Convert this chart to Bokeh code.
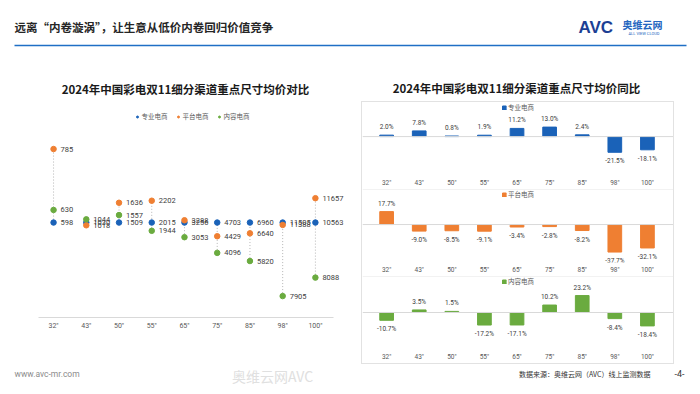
from bokeh.plotting import figure
from bokeh.models import Range1d, FixedTicker, Legend, LegendItem, Span, ColumnDataSource, Spacer
from bokeh.layouts import column, row
from bokeh.embed import file_html
from bokeh.resources import INLINE
from bokeh.core.properties import value

# ---------------- data ----------------
sizes = ['32"', '43"', '50"', '55"', '65"', '75"', '85"', '98"', '100"']
channels = ["专业电商", "平台电商", "内容电商"]
price_pro = [598, 1030, 1509, 2015, 3256, 4703, 6960, 11505, 10563]
price_plat = [785, 1018, 1636, 2202, 3288, 4429, 6640, 11388, 11657]
price_cont = [630, 1044, 1557, 1944, 3053, 4096, 5820, 7905, 8088]
yoy_pro = [2.0, 7.8, 0.8, 1.9, 11.2, 13.0, 2.4, -21.5, -18.1]
yoy_plat = [17.7, -9.0, -8.5, -9.1, -3.4, -2.8, -8.2, -37.7, -32.1]
yoy_cont = [-10.7, 3.5, 1.5, -17.2, -17.1, 10.2, 23.2, -8.4, -18.4]

page_title = "远离“内卷漩涡”，让生意从低价内卷回归价值竞争"
left_title = "2024年中国彩电双11细分渠道重点尺寸均价对比"
right_title = "2024年中国彩电双11细分渠道重点尺寸均价同比"
source_note = "数据来源：奥维云网（AVC）线上监测数据"

BLUE = "#1a62b8"
ORANGE = "#ef7f32"
GREEN = "#6aab3f"
CJK = value("Noto Sans CJK SC")
NUM = value("Roboto")
TXT = "#404040"


def blank(w, h):
    p = figure(width=w, height=h, x_range=Range1d(0, w), y_range=Range1d(h, 0),
               x_axis_type=None, y_axis_type=None, output_backend="svg",
               toolbar_location=None, min_border=0)
    p.grid.visible = False
    p.outline_line_color = None
    p.background_fill_color = "white"
    p.border_fill_color = "white"
    return p


# ---------------- header ----------------
hdr = blank(684, 50)
hdr.text(x=[6], y=[18], text=[page_title], text_font=CJK, text_font_size="11.5px",
         text_font_style="bold", text_baseline="middle", text_color="#262626")
hdr.segment(x0=[6], y0=[37], x1=[678], y1=[37], line_color="#1f6fc5", line_width=1.6)
hdr.text(x=[570], y=[19], text=["AVC"], text_font=value("Liberation Sans"), text_font_size="17px",
         text_font_style="bold", text_baseline="middle", text_color="#1c3f94")
hdr.text(x=[614], y=[16], text=["奥维云网"], text_font=CJK, text_font_size="10px",
         text_font_style="bold", text_baseline="middle", text_color="#2366c0")
hdr.text(x=[620], y=[25], text=["ALL VIEW CLOUD"], text_font=NUM, text_font_size="4px",
         text_baseline="middle", text_color="#2366c0")

# ---------------- titles row ----------------
ttl = blank(684, 43)
ttl.text(x=[177, 508], y=[30, 29], text=[left_title, right_title], text_font=CJK,
         text_font_size="11.5px", text_font_style="bold", text_align="center",
         text_baseline="middle", text_color="#1a1a1a")

# ---------------- left: dot plot (index vs 专业电商) ----------------
idx = list(range(len(sizes)))
r_pro = [a / a for a in price_pro]
r_plat = [a / b for a, b in zip(price_plat, price_pro)]
r_cont = [a / b for a, b in zip(price_cont, price_pro)]
lo = [min(t) for t in zip(r_pro, r_plat, r_cont)]
hi = [max(t) for t in zip(r_pro, r_plat, r_cont)]

lf = figure(width=342, height=263, x_range=Range1d(-0.46, 8.95), y_range=Range1d(0.596, 1.515),
            y_axis_type=None, output_backend="svg", toolbar_location=None,
            min_border_left=30, min_border_right=4, min_border_top=0, min_border_bottom=47)
lf.grid.visible = False
lf.outline_line_color = None
lf.background_fill_color = "white"
lf.border_fill_color = "white"
ax = lf.xaxis[0]
ax.ticker = FixedTicker(ticks=idx)
ax.bounds = (-0.46, 8.55)
ax.major_label_overrides = {i: s for i, s in zip(idx, sizes)}
ax.major_tick_in = 0
ax.major_tick_out = 0
ax.minor_tick_in = 0
ax.minor_tick_out = 0
ax.axis_line_color = "#d9d9d9"
ax.major_label_standoff = 4
ax.major_label_text_font = "Roboto"
ax.major_label_text_font_size = "7px"
ax.major_label_text_color = "#595959"

lf.segment(x0=idx, y0=lo, x1=idx, y1=hi, line_color="#b5b5b5", line_width=1, line_dash="1 2")
renders = []
for vals, ratios, col in [(price_pro, r_pro, BLUE), (price_plat, r_plat, ORANGE), (price_cont, r_cont, GREEN)]:
    src = ColumnDataSource(dict(x=idx, y=ratios, t=[str(v) for v in vals]))
    r = lf.scatter("x", "y", source=src, size=5.5, fill_color=col, line_color=col)
    renders.append(r)
    lf.text("x", "y", text="t", source=src, x_offset=7, text_font=NUM, text_font_size="7.5px",
            text_baseline="middle", text_color=TXT)

lleg = Legend(items=[LegendItem(label=c, renderers=[r]) for c, r in zip(channels, renders)],
              location="top_center", orientation="horizontal", glyph_width=5, glyph_height=5,
              label_text_font="Noto Sans CJK SC", label_text_font_size="6.5px",
              label_text_color="#595959", label_standoff=2, spacing=8, margin=10, padding=2,
              border_line_color=None, background_fill_alpha=0, label_height=8)
lf.add_layout(lleg)

# ---------------- right: three YoY bar panels ----------------
def panel(vals, col, name, yr, sep):
    p = figure(width=311, height=87, x_range=Range1d(-0.74, 8.8), y_range=Range1d(*yr),
               y_axis_type=None, output_backend="svg", toolbar_location=None,
               min_border_left=0, min_border_right=0, min_border_top=0, min_border_bottom=12)
    p.grid.visible = False
    p.outline_line_color = None
    p.background_fill_color = "white"
    p.border_fill_color = "white"
    a = p.xaxis[0]
    a.ticker = FixedTicker(ticks=idx)
    a.major_label_overrides = {i: s for i, s in zip(idx, sizes)}
    a.major_tick_in = 0
    a.major_tick_out = 0
    a.minor_tick_in = 0
    a.minor_tick_out = 0
    a.axis_line_color = None
    a.major_label_standoff = 3
    a.major_label_text_font = "Roboto"
    a.major_label_text_font_size = "6.5px"
    a.major_label_text_color = "#595959"
    p.add_layout(Span(location=0, dimension="width", line_color="#d9d9d9", line_width=1))
    if sep:
        p.add_layout(Span(location=yr[1], dimension="width", line_color="#e6e6e6", line_width=1))
    src = ColumnDataSource(dict(x=idx, top=vals))
    bars = p.vbar(x="x", top="top", bottom=0, width=0.42, source=src, fill_color=col, line_color=col)
    pos = [(i, v) for i, v in zip(idx, vals) if v >= 0]
    neg = [(i, v) for i, v in zip(idx, vals) if v < 0]
    for grp, off in [(pos, -8), (neg, 9)]:
        if grp:
            s = ColumnDataSource(dict(x=[g[0] for g in grp], y=[g[1] for g in grp],
                                      t=[f"{g[1]:.1f}%" for g in grp]))
            p.text("x", "y", text="t", source=s, y_offset=off, text_font=NUM, text_font_size="6.5px",
                   text_align="center", text_baseline="middle", text_color=TXT)
    leg = Legend(items=[LegendItem(label=name, renderers=[bars])], location="top_center",
                 orientation="horizontal", glyph_width=5, glyph_height=5,
                 label_text_font="Noto Sans CJK SC", label_text_font_size="6.5px",
                 label_text_color="#595959", label_standoff=2, margin=0, padding=1,
                 border_line_color=None, background_fill_alpha=0, label_height=8)
    p.add_layout(leg)
    return p


f1 = panel(yoy_pro, BLUE, channels[0], (-53.3, 46.7), False)
f2 = panel(yoy_plat, ORANGE, channels[1], (-52.0, 48.0), True)
f3 = panel(yoy_cont, GREEN, channels[2], (-50.7, 49.3), True)
boxed = column(f1, f2, f3, styles={"border": "1px solid #e2e2e2"})
right = row(Spacer(width=11, height=10), boxed)

# ---------------- footer ----------------
ftr = blank(684, 24)
ftr.text(x=[6], y=[9], text=["www.avc-mr.com"], text_font=NUM, text_font_size="8.5px",
         text_baseline="middle", text_color="#8c8c8c")
ftr.text(x=[264], y=[11], text=["奥维云网AVC"], text_font=CJK, text_font_size="14px",
         text_align="center", text_baseline="middle", text_color="#e0e0e0")
ftr.text(x=[642], y=[9], text=[source_note], text_font=CJK, text_font_size="7px",
         text_align="right", text_baseline="middle", text_color="#333333")
ftr.text(x=[671], y=[9], text=["-4-"], text_font=NUM, text_font_size="9px",
         text_align="center", text_baseline="middle", text_color="#333333")

content = column(hdr, ttl, row(lf, right), ftr)
page = row(Spacer(width=8, height=10), column(Spacer(width=10, height=8), content))
open("out.html", "w").write(file_html(page, INLINE))
